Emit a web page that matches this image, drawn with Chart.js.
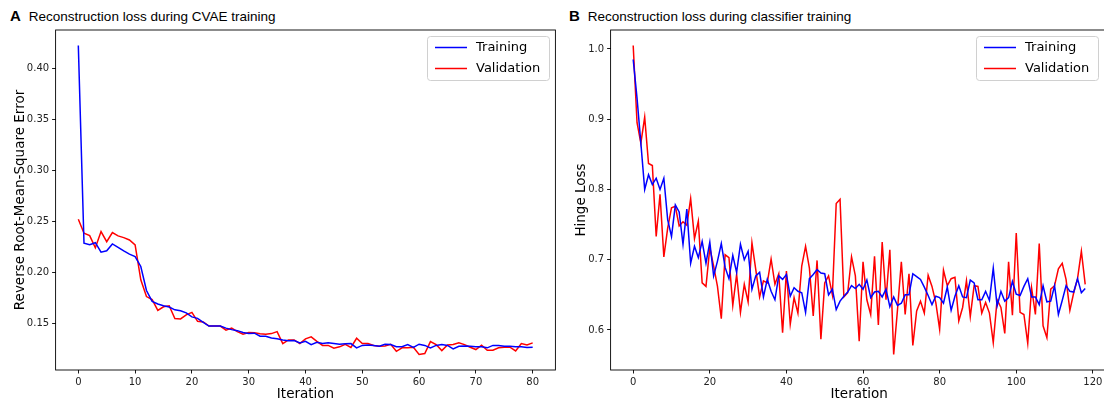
<!DOCTYPE html>
<html>
<head>
<meta charset="utf-8">
<script src="https://cdn.jsdelivr.net/npm/chart.js@4.4.1/dist/chart.umd.min.js"></script>
<style>
  html, body { margin: 0; padding: 0; background: #fff; overflow: hidden; width: 1104px; height: 400px; }
  .panel { position: absolute; top: 0; }
  .heading { position: absolute; top: 7px; font-family: "Liberation Sans", Arial, sans-serif; font-size: 13.5px; color: #000; white-space: nowrap; }
  .heading b { font-size: 15px; margin-right: 8px; }
</style>
</head>
<body>

<div class="heading" style="left:10px"><b>A</b>Reconstruction loss during CVAE training</div>
<div class="heading" style="left:569px"><b>B</b>Reconstruction loss during classifier training</div>

<canvas id="cvaeChart" class="panel" style="left:0" width="560" height="400"></canvas>
<canvas id="clfChart" class="panel" style="left:560px" width="550" height="400"></canvas>

<script>
// ============================================================
// Data
// ============================================================

// panel A — CVAE, iterations 0..80
const cvaeTraining = [
  0.423, 0.2285, 0.227, 0.229, 0.2197, 0.221, 0.2278, 0.2245, 0.221, 0.2177,
  0.2154, 0.2056, 0.182, 0.1713, 0.1687, 0.167, 0.1657, 0.163, 0.162, 0.160,
  0.156, 0.1546, 0.1507, 0.147, 0.147, 0.147, 0.145, 0.1435, 0.1425, 0.1406,
  0.1396, 0.140, 0.137, 0.137, 0.1352, 0.1345, 0.1334, 0.1325, 0.1328, 0.1305,
  0.132, 0.1288, 0.131, 0.1298, 0.1305, 0.1298, 0.1292, 0.1295, 0.1298, 0.1256,
  0.128, 0.1283, 0.128, 0.1272, 0.1292, 0.1288, 0.1266, 0.1266, 0.1288, 0.126,
  0.1292, 0.128, 0.1256, 0.128, 0.1288, 0.128, 0.1246, 0.1272, 0.1275, 0.1272,
  0.1266, 0.1266, 0.1256, 0.128, 0.128, 0.1272, 0.1272, 0.1266, 0.1266, 0.126,
  0.1262,
];
const cvaeValidation = [
  0.252, 0.2383, 0.236, 0.224, 0.240, 0.230, 0.239, 0.2357, 0.234, 0.2317,
  0.2268, 0.1925, 0.176, 0.173, 0.1625, 0.166, 0.167, 0.1544, 0.154, 0.158,
  0.1605, 0.1517, 0.151, 0.147, 0.147, 0.147, 0.143, 0.145, 0.1415, 0.139,
  0.1406, 0.1405, 0.1395, 0.139, 0.1396, 0.1416, 0.1298, 0.1334, 0.1334, 0.1298,
  0.1344, 0.1364, 0.132, 0.128, 0.128, 0.1252, 0.1266, 0.129, 0.126, 0.135,
  0.1298, 0.1298, 0.128, 0.1272, 0.1275, 0.129, 0.1222, 0.1256, 0.1256, 0.1262,
  0.119, 0.120, 0.1317, 0.1288, 0.1229, 0.1285, 0.1288, 0.1305, 0.1288, 0.1262,
  0.1239, 0.1282, 0.1232, 0.1232, 0.1256, 0.1262, 0.1262, 0.1225, 0.1298, 0.1285,
  0.1305,
];
const cvaeXTicks = [0, 10, 20, 30, 40, 50, 60, 70, 80];
const cvaeYTicks = [0.15, 0.20, 0.25, 0.30, 0.35, 0.40];

// panel B — classifier, iterations 0..118
const clfTraining = [
  0.985, 0.930, 0.866, 0.800, 0.821, 0.807, 0.816, 0.800, 0.816, 0.757,
  0.733, 0.778, 0.768, 0.722, 0.772, 0.695, 0.719, 0.703, 0.726, 0.695,
  0.725, 0.677, 0.698, 0.723, 0.689, 0.673, 0.706, 0.682, 0.722, 0.700,
  0.712, 0.658, 0.677, 0.682, 0.647, 0.672, 0.655, 0.643, 0.677, 0.672,
  0.679, 0.648, 0.660, 0.655, 0.653, 0.625, 0.673, 0.679, 0.686, 0.681,
  0.680, 0.650, 0.658, 0.629, 0.641, 0.648, 0.654, 0.663, 0.659, 0.665,
  0.658, 0.671, 0.646, 0.654, 0.655, 0.647, 0.658, 0.633, 0.647, 0.635,
  0.638, 0.650, 0.650, 0.680, 0.676, 0.672, 0.661, 0.649, 0.636, 0.648,
  0.646, 0.638, 0.661, 0.628, 0.648, 0.663, 0.647, 0.646, 0.671, 0.667,
  0.643, 0.643, 0.655, 0.642, 0.688, 0.634, 0.655, 0.641, 0.646, 0.669,
  0.651, 0.649, 0.662, 0.673, 0.647, 0.647, 0.636, 0.663, 0.640, 0.641,
  0.663, 0.622, 0.642, 0.663, 0.655, 0.654, 0.673, 0.653, 0.659,
];
const clfValidation = [
  1.005, 0.895, 0.866, 0.903, 0.837, 0.834, 0.733, 0.793, 0.704, 0.745,
  0.774, 0.776, 0.748, 0.754, 0.749, 0.787, 0.730, 0.755, 0.667, 0.662,
  0.717, 0.691, 0.662, 0.616, 0.707, 0.703, 0.635, 0.679, 0.625, 0.665,
  0.640, 0.724, 0.686, 0.647, 0.670, 0.667, 0.701, 0.665, 0.680, 0.596,
  0.684, 0.608, 0.646, 0.624, 0.691, 0.719, 0.688, 0.620, 0.699, 0.587,
  0.667, 0.677, 0.650, 0.780, 0.786, 0.647, 0.653, 0.704, 0.677, 0.584,
  0.697, 0.643, 0.622, 0.705, 0.607, 0.725, 0.643, 0.714, 0.565, 0.629,
  0.697, 0.622, 0.680, 0.578, 0.627, 0.641, 0.624, 0.678, 0.662, 0.639,
  0.601, 0.685, 0.663, 0.673, 0.675, 0.613, 0.632, 0.670, 0.619, 0.663,
  0.662, 0.624, 0.639, 0.624, 0.582, 0.643, 0.632, 0.595, 0.697, 0.621,
  0.738, 0.625, 0.622, 0.581, 0.660, 0.622, 0.723, 0.606, 0.589, 0.658,
  0.663, 0.687, 0.695, 0.672, 0.628, 0.653, 0.673, 0.712, 0.665,
];
const clfXTicks = [0, 20, 40, 60, 80, 100, 120];
const clfYTicks = [0.6, 0.7, 0.8, 0.9, 1.0];

const seriesLabels = ['Training', 'Validation'];
const seriesColors = ['#0000ff', '#ff0000'];

// ============================================================
// matplotlib-like frame (all four spines) + boxed legend
// ============================================================
const frameAndLegend = {
  id: 'frameAndLegend',
  afterDatasetsDraw(chart, args, opts) {
    const { ctx, chartArea: a } = chart;
    ctx.save();
    ctx.strokeStyle = '#000';
    ctx.lineWidth = 0.9;
    ctx.strokeRect(a.left, a.top, a.right - a.left, a.bottom - a.top);

    const w = opts.width, h = 44;
    const x = opts.right - w, y = a.top + 6;
    ctx.beginPath();
    ctx.roundRect(x + 0.5, y + 0.5, w, h, 3);
    ctx.fillStyle = 'rgba(255,255,255,0.8)';
    ctx.fill();
    ctx.strokeStyle = '#d0d0d0';
    ctx.lineWidth = 1;
    ctx.stroke();

    ctx.font = '13px "DejaVu Sans"';
    ctx.textBaseline = 'middle';
    chart.data.datasets.forEach((ds, i) => {
      const cy = y + 11.5 + i * 21;
      ctx.beginPath();
      ctx.moveTo(x + 8, cy);
      ctx.lineTo(x + 40, cy);
      ctx.strokeStyle = ds.borderColor;
      ctx.lineWidth = 1.5;
      ctx.stroke();
      ctx.fillStyle = '#000';
      ctx.fillText(ds.label, x + 49, cy);
    });
    ctx.restore();
  },
};

function axisBase(tickList, decimals, min, max) {
  return {
    type: 'linear',
    min, max,
    afterBuildTicks: (s) => { s.ticks = tickList.map((v) => ({ value: v })); },
    border: { display: false },
    grid: { drawOnChartArea: false, drawTicks: true, tickLength: 3.5, color: '#000', lineWidth: 0.9 },
    ticks: {
      color: '#222',
      padding: 3,
      font: { family: 'DejaVu Sans', size: 10 },
      maxRotation: 0,
      callback: (v) => Number(v).toFixed(decimals),
    },
  };
}

function renderLossChart(canvasId, cfg) {
  const ctx = document.getElementById(canvasId);
  if (!ctx || typeof Chart === 'undefined') return;

  const x = axisBase(cfg.xTicks, 0, cfg.xMin, cfg.xMax);
  x.afterFit = (s) => { s.height = 30; };
  x.title = { display: true, text: 'Iteration', color: '#000', padding: 0,
    font: { family: 'DejaVu Sans', size: 13.5, lineHeight: 0.75 } };

  const y = axisBase(cfg.yTicks, cfg.yDecimals, cfg.yMin, cfg.yMax);
  y.afterFit = (s) => { s.width = cfg.yAxisWidth; };
  y.title = { display: true, text: cfg.yTitle, color: '#000', padding: { top: cfg.yTitlePad, bottom: 0 },
    font: { family: 'DejaVu Sans', size: 13.5, lineHeight: 1 } };

  return new Chart(ctx, {
    type: 'line',
    data: {
      datasets: cfg.series.map((vals, i) => ({
        label: seriesLabels[i],
        data: vals.map((v, k) => ({ x: k, y: v })),
        borderColor: seriesColors[i],
        borderWidth: 1.5,
        pointRadius: 0,
        tension: 0,
        fill: false,
      })),
    },
    options: {
      responsive: false,
      animation: false,
      events: [],
      layout: { padding: { top: 30, right: cfg.padRight, left: 0, bottom: 0 } },
      plugins: {
        legend: { display: false },
        tooltip: { enabled: false },
        frameAndLegend: { width: 122, right: cfg.legendRight },
      },
      scales: { x, y },
    },
    plugins: [frameAndLegend],
  });
}

renderLossChart('cvaeChart', {
  series: [cvaeTraining, cvaeValidation],
  xTicks: cvaeXTicks, yTicks: cvaeYTicks, yDecimals: 2,
  xMin: -4, xMax: 84, yMin: 0.1038, yMax: 0.4382,
  yTitle: 'Reverse Root-Mean-Square Error', yTitlePad: 14,
  yAxisWidth: 55.6, padRight: 4.6, legendRight: 549,
});

renderLossChart('clfChart', {
  series: [clfTraining, clfValidation],
  xTicks: clfXTicks, yTicks: clfYTicks, yDecimals: 1,
  xMin: -5.9, xMax: 123.9, yMin: 0.543, yMax: 1.027,
  yTitle: 'Hinge Loss', yTitlePad: 15,
  yAxisWidth: 50.6, padRight: 2.2, legendRight: 538,
});
</script>
</body>
</html>
